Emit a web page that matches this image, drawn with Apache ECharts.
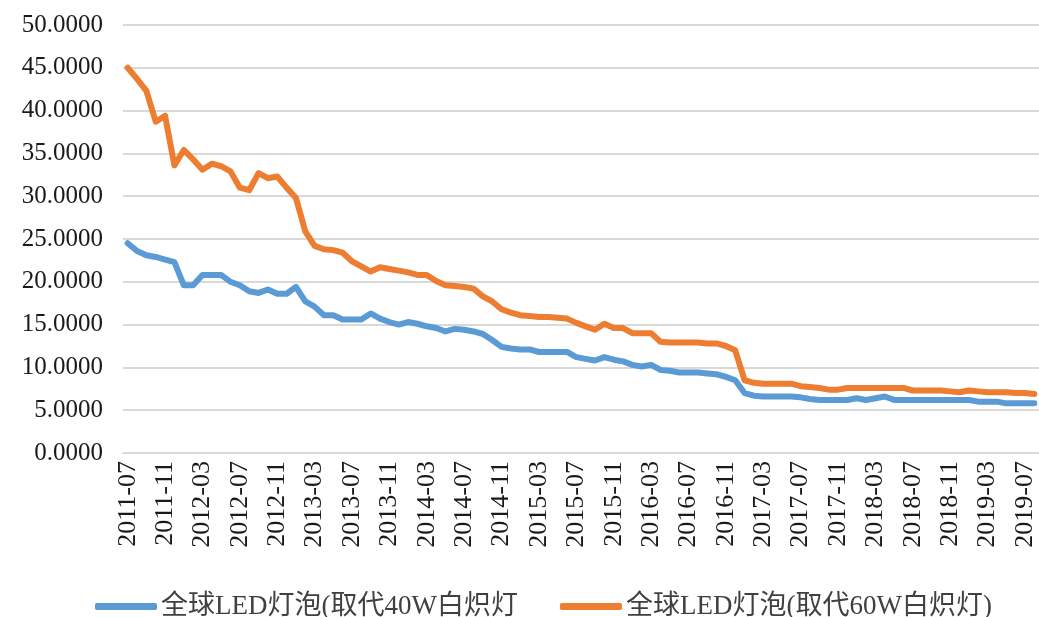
<!DOCTYPE html>
<html>
<head>
<meta charset="utf-8">
<script src="https://cdn.jsdelivr.net/npm/echarts@6/dist/echarts.min.js"></script>
<style>
  html, body { margin: 0; padding: 0; background: #fff; }
  #main { width: 1039px; height: 617px; }
</style>
</head>
<body>
<div id="main"></div>
<script>
// months 2011-07 .. 2019-08
var months = [];
for (var y = 2011; y <= 2019; y++) {
  for (var m = 1; m <= 12; m++) {
    if (y === 2011 && m < 7) continue;
    if (y === 2019 && m > 8) break;
    months.push(y + '-' + (m < 10 ? '0' + m : m));
  }
}

var seriesNames = ['全球LED灯泡(取代40W白炽灯', '全球LED灯泡(取代60W白炽灯)'];

var led40 = [
  24.5, 23.6, 23.1, 22.9, 22.6, 22.3,
  19.6, 19.6, 20.8, 20.8, 20.8, 20.0, 19.6, 18.9, 18.7, 19.1, 18.6, 18.6,
  19.4, 17.7, 17.1, 16.1, 16.1, 15.6, 15.6, 15.6, 16.3, 15.7, 15.3, 15.0,
  15.3, 15.1, 14.8, 14.6, 14.2, 14.5, 14.4, 14.2, 13.9, 13.2, 12.4, 12.2,
  12.1, 12.1, 11.8, 11.8, 11.8, 11.8, 11.2, 11.0, 10.8, 11.2, 10.9, 10.7,
  10.3, 10.1, 10.3, 9.7, 9.6, 9.4, 9.4, 9.4, 9.3, 9.2, 8.9, 8.5,
  7.0, 6.7, 6.6, 6.6, 6.6, 6.6, 6.5, 6.3, 6.2, 6.2, 6.2, 6.2,
  6.4, 6.2, 6.4, 6.6, 6.2, 6.2, 6.2, 6.2, 6.2, 6.2, 6.2, 6.2,
  6.2, 6.0, 6.0, 6.0, 5.8, 5.8, 5.8, 5.8
];

var led60 = [
  45.0, 43.7, 42.3, 38.7, 39.4, 33.6,
  35.4, 34.3, 33.1, 33.8, 33.5, 32.9, 31.0, 30.7, 32.7, 32.1, 32.3, 31.0,
  29.8, 25.9, 24.2, 23.8, 23.7, 23.4, 22.4, 21.8, 21.2, 21.7, 21.5, 21.3,
  21.1, 20.8, 20.8, 20.1, 19.6, 19.5, 19.4, 19.2, 18.3, 17.7, 16.8, 16.4,
  16.1, 16.0, 15.9, 15.9, 15.8, 15.7, 15.2, 14.8, 14.4, 15.1, 14.6, 14.6,
  14.0, 14.0, 14.0, 13.0, 12.9, 12.9, 12.9, 12.9, 12.8, 12.8, 12.5, 12.0,
  8.5, 8.2, 8.1, 8.1, 8.1, 8.1, 7.8, 7.7, 7.6, 7.4, 7.4, 7.6,
  7.6, 7.6, 7.6, 7.6, 7.6, 7.6, 7.3, 7.3, 7.3, 7.3, 7.2, 7.1,
  7.3, 7.2, 7.1, 7.1, 7.1, 7.0, 7.0, 6.9
];

var yMin = 0, yMax = 50, yStep = 5;

var serifFont = '"Liberation Serif", "Times New Roman", "Noto Sans CJK SC", serif';
var gridColor = '#d9d9d9';

var chart = echarts.init(document.getElementById('main'));

var option = {
  backgroundColor: '#fff',
  animation: false,
  grid: {
    left: 123,
    right: 0,
    top: 25,
    bottom: 164
  },
  legend: {
    top: 588,
    left: 90,
    itemWidth: 62,
    itemHeight: 7,
    itemGap: 42,
    icon: 'roundRect',
    textStyle: {
      fontFamily: serifFont,
      fontSize: 27,
      color: '#404040',
      padding: [0, 0, 0, -1]
    },
    data: seriesNames
  },
  xAxis: {
    type: 'category',
    data: months,
    boundaryGap: true,
    axisLine: { lineStyle: { color: gridColor, width: 2 } },
    axisTick: {
      interval: 3,
      length: 6,
      lineStyle: { color: gridColor, width: 2 }
    },
    axisLabel: {
      interval: 3,
      rotate: 90,
      margin: 8,
      fontFamily: serifFont,
      fontSize: 26,
      color: '#1a1a1a'
    }
  },
  yAxis: {
    type: 'value',
    min: yMin,
    max: yMax,
    interval: yStep,
    axisLine: { show: false },
    axisTick: { show: false },
    splitLine: { lineStyle: { color: gridColor, width: 2 } },
    axisLabel: {
      margin: 20,
      fontFamily: serifFont,
      fontSize: 25,
      color: '#1a1a1a',
      formatter: function (v) { return v.toFixed(4); }
    }
  },
  series: [
    {
      name: seriesNames[0],
      type: 'line',
      data: led40,
      symbol: 'none',
      lineStyle: { width: 6, color: '#5B9BD5', join: 'round', cap: 'round' },
      itemStyle: { color: '#5B9BD5' }
    },
    {
      name: seriesNames[1],
      type: 'line',
      data: led60,
      symbol: 'none',
      lineStyle: { width: 6, color: '#ED7D31', join: 'round', cap: 'round' },
      itemStyle: { color: '#ED7D31' }
    }
  ]
};

chart.setOption(option);
</script>
</body>
</html>
